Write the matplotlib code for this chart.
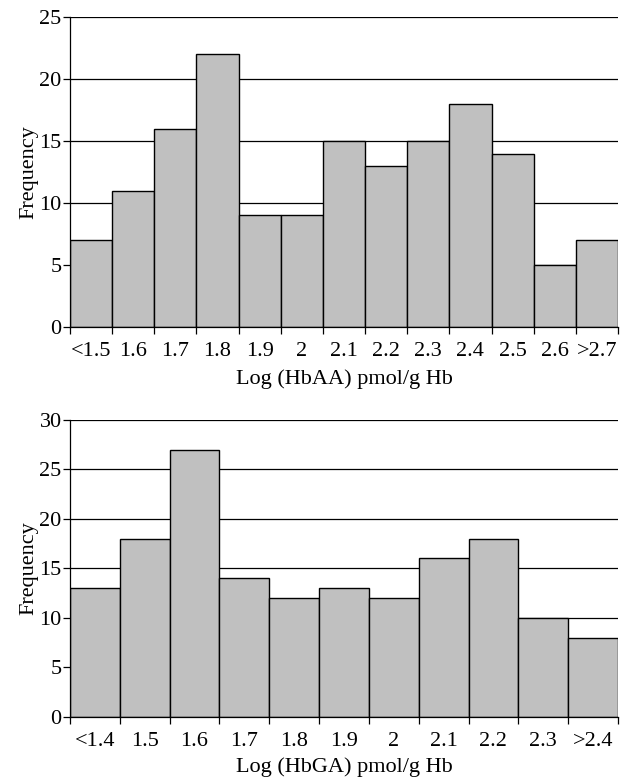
import matplotlib.pyplot as plt
import numpy as np

plt.rcParams['font.family'] = ['Liberation Serif', 'DejaVu Serif']

aa_labels = ['<1.5', '1.6', '1.7', '1.8', '1.9', '2', '2.1', '2.2', '2.3', '2.4', '2.5', '2.6', '>2.7']
aa_freq = [7, 11, 16, 22, 9, 9, 15, 13, 15, 18, 14, 5, 7]

ga_labels = ['<1.4', '1.5', '1.6', '1.7', '1.8', '1.9', '2', '2.1', '2.2', '2.3', '>2.4']
ga_freq = [13, 18, 27, 14, 12, 13, 12, 16, 18, 10, 8]

fig = plt.figure(figsize=(6.27, 7.8), dpi=100)
ax1 = fig.add_axes([0.1116, 0.5808, 0.874, 0.397])
ax2 = fig.add_axes([0.1116, 0.0808, 0.874, 0.381])


def draw(ax, labels, freq, ymax, xlabel, xpad):
    x = np.arange(len(labels))
    ax.set_axisbelow(True)
    ax.yaxis.grid(True, color='black', linewidth=0.9)
    ax.bar(x, freq, width=1.0, color='#c0c0c0', edgecolor='black', linewidth=1.0, zorder=2)
    ax.set_xlim(-0.5, len(labels) - 0.5)
    ax.set_ylim(0, ymax)
    ax.set_yticks(np.arange(0, ymax + 1, 5))
    # ticks at bar edges, labels at bar centres
    ax.set_xticks(np.arange(-0.5, len(labels) + 0.5, 1))
    ax.set_xticklabels([])
    ax.set_xticks(x, minor=True)
    ax.set_xticklabels(labels, minor=True)
    ax.tick_params(axis='x', which='minor', length=0, labelsize=16, pad=11)
    ax.tick_params(axis='x', which='major', length=5, direction='out', width=0.9)
    ax.tick_params(axis='y', length=5, direction='out', width=0.9, labelsize=16, pad=1)
    for s in ['top', 'right']:
        ax.spines[s].set_visible(False)
    ax.spines['left'].set_linewidth(0.9)
    ax.spines['bottom'].set_linewidth(0.9)
    ax.set_ylabel('Frequency', fontsize=16, labelpad=1)
    ax.set_xlabel(xlabel, fontsize=16, labelpad=xpad)


draw(ax1, aa_labels, aa_freq, 25, 'Log (HbAA) pmol/g Hb', 6)
draw(ax2, ga_labels, ga_freq, 30, 'Log (HbGA) pmol/g Hb', 4)

fig.savefig('out.png', dpi=100)
